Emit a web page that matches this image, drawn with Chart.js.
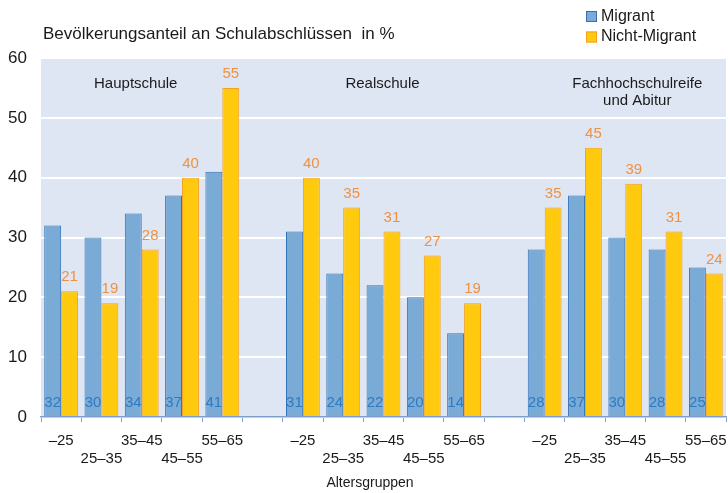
<!DOCTYPE html>
<html>
<head>
<meta charset="utf-8">
<script src="https://cdn.jsdelivr.net/npm/chart.js@4"></script>
<style>
  html, body { margin: 0; padding: 0; background: #fff; }
  #wrap { width: 728px; height: 493px; position: relative; }
</style>
</head>
<body>
<div id="wrap"><canvas id="c" width="728" height="493"></canvas></div>
<script>
// age groups per school type, blank slot between blocks
var AGES = ['–25', '25–35', '35–45', '45–55', '55–65'];
var GROUPS = ['Hauptschule', 'Realschule', 'Fachhochschulreife|und Abitur'];
var MIGRANT = [32, 30, 34, 37, 41, null, 31, 24, 22, 20, 14, null, 28, 37, 30, 28, 25];
var NICHT   = [21, 19, 28, 40, 55, null, 40, 35, 31, 27, 19, null, 35, 45, 39, 31, 24];
var Y_TICKS = [0, 10, 20, 30, 40, 50, 60];

var FONT = '"Liberation Sans", Arial, sans-serif';
var BLUE = '#7aaad6', BLUE_EDGE = '#2f72b8', BLUE_TXT = '#2e7bc2';
var GOLD = '#ffc90e', GOLD_EDGE = '#f5a01e', GOLD_TXT = '#f0913f';
var PLOT_BG = '#dfe6f3';
var CAP_SHIFT = [-6, -1, 12]; // caption nudges vs group centre

// two-row tick labels: even ages top row, odd ages bottom row
var LABELS = [];
[0, 1, 2].forEach(function (g) {
  AGES.forEach(function (a, i) { LABELS.push(i % 2 === 0 ? [a, ''] : ['', a]); });
  if (g < 2) LABELS.push(['', '']);
});

var decor = {
  id: 'decor',
  beforeDraw: function (ch) {
    var a = ch.chartArea, c = ch.ctx;
    c.save(); c.fillStyle = PLOT_BG; c.fillRect(a.left, a.top, a.right - a.left, a.bottom - a.top); c.restore();
  },
  afterDraw: function (ch) {
    var c = ch.ctx, x = ch.scales.x;
    c.save();
    c.textBaseline = 'middle';
    // title + legend
    c.fillStyle = '#1a1a1a'; c.font = '17px ' + FONT; c.textAlign = 'left';
    c.fillText('Bevölkerungsanteil an Schulabschlüssen  in %', 43, 34);
    [['Migrant', BLUE, BLUE_EDGE, 16.5], ['Nicht-Migrant', GOLD, GOLD_EDGE, 37]].forEach(function (l) {
      c.fillStyle = l[1]; c.fillRect(586, l[3] - 5.5, 11, 11);
      c.strokeStyle = l[2]; c.lineWidth = 1; c.strokeRect(586.5, l[3] - 5, 10, 10);
      c.fillStyle = '#1a1a1a'; c.font = '16px ' + FONT; c.fillText(l[0], 601, l[3]);
    });
    // axis title
    c.textAlign = 'center'; c.font = '14px ' + FONT;
    c.fillText('Altersgruppen', 370, 483);
    // group captions
    c.font = '15px ' + FONT; c.fillStyle = '#1a1a1a';
    GROUPS.forEach(function (g, gi) {
      var cx = (x.getPixelForValue(gi * 6) + x.getPixelForValue(gi * 6 + 4)) / 2 + CAP_SHIFT[gi];
      g.split('|').forEach(function (t, li) { c.fillText(t, cx, 84 + li * 17); });
    });
    // value labels
    c.font = '15px ' + FONT;
    var m0 = ch.getDatasetMeta(0), m1 = ch.getDatasetMeta(1);
    MIGRANT.forEach(function (v, i) {
      if (v == null) return;
      c.fillStyle = BLUE_TXT; c.fillText(v, m0.data[i].x, 403);
      c.fillStyle = GOLD_TXT; c.fillText(NICHT[i], m1.data[i].x, m1.data[i].y - 14);
    });
    c.restore();
  }
};

new Chart(document.getElementById('c'), {
  type: 'bar',
  data: {
    labels: LABELS,
    datasets: [
      { label: 'Migrant', data: MIGRANT, backgroundColor: BLUE, borderColor: BLUE_EDGE, borderWidth: 1 },
      { label: 'Nicht-Migrant', data: NICHT, backgroundColor: GOLD, borderColor: GOLD_EDGE, borderWidth: 1 }
    ]
  },
  options: {
    responsive: false, animation: false,
    layout: { padding: { top: 58, right: 2, left: 0, bottom: 0 } },
    datasets: { bar: { categoryPercentage: 0.84, barPercentage: 1.0 } },
    plugins: { legend: { display: false }, tooltip: { enabled: false } },
    scales: {
      x: {
        grid: { offset: true, drawOnChartArea: false, color: '#7e9fd0', tickLength: 5, lineWidth: 1 },
        border: { color: '#7e9fd0', width: 1.5 },
        ticks: { color: '#1a1a1a', font: { family: FONT, size: 15, lineHeight: 1.2 }, padding: 10, maxRotation: 0, autoSkip: false },
        afterFit: function (s) { s.height = 76; s.paddingLeft = 0; s.paddingRight = 0; }
      },
      y: {
        min: 0, max: 60,
        afterBuildTicks: function (s) { s.ticks = Y_TICKS.map(function (v) { return { value: v }; }); },
        grid: { color: '#ffffff', lineWidth: 2, drawTicks: false },
        border: { display: false },
        ticks: { color: '#1a1a1a', font: { family: FONT, size: 17 }, padding: 14 },
        afterFit: function (s) { s.width = 41; }
      }
    }
  },
  plugins: [decor]
});
</script>
</body>
</html>
